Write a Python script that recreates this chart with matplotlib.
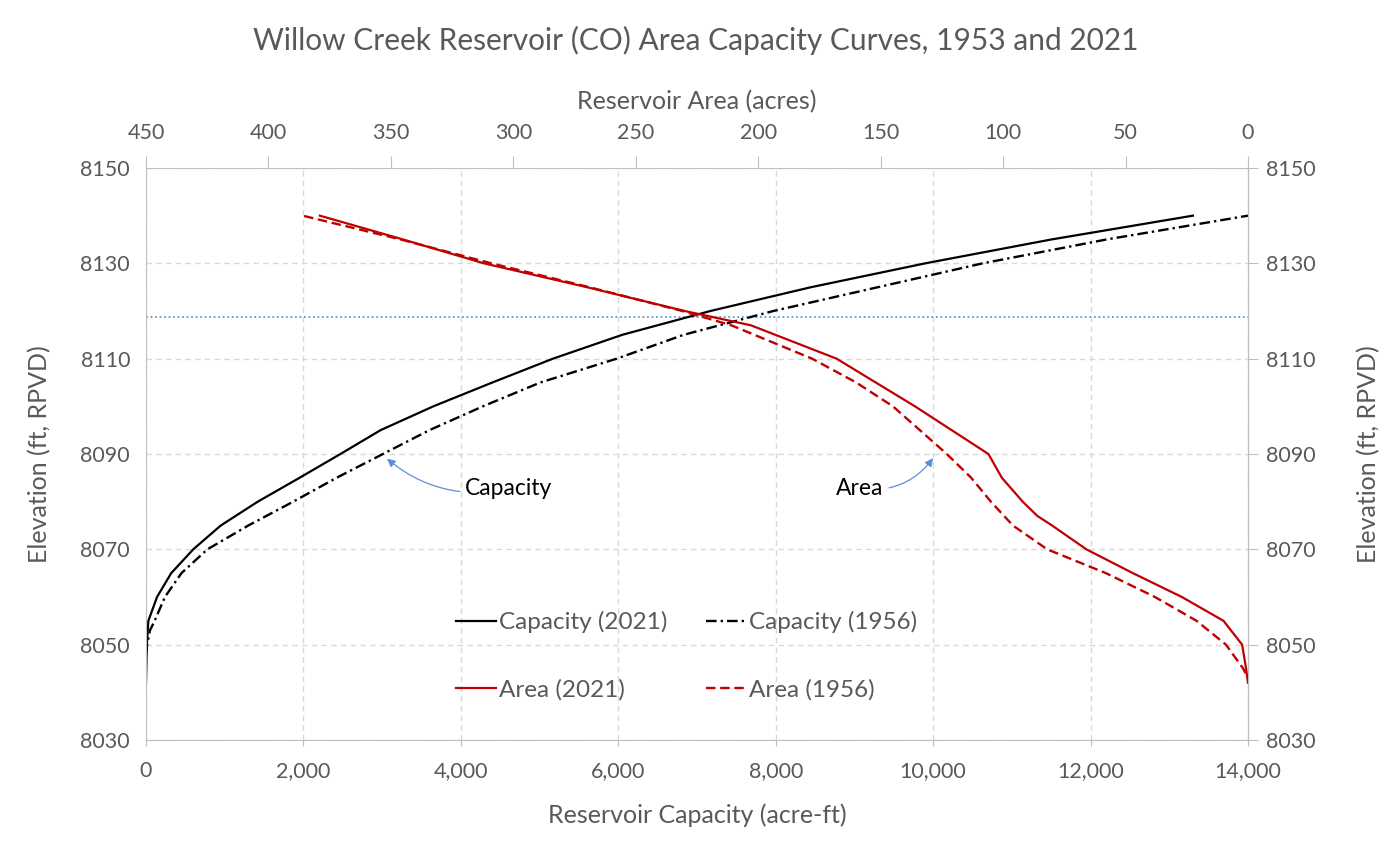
import numpy as np
import matplotlib
matplotlib.use("Agg")
import matplotlib.pyplot as plt

plt.rcParams['font.family'] = ['Lato', 'DejaVu Sans']

# ---- data ----
# capacity (acre-ft) vs elevation (ft)
cap21_elev = [8042, 8050, 8055, 8060, 8065, 8070, 8075, 8080, 8085, 8090, 8095,
              8100, 8105, 8110, 8115, 8120, 8125, 8130, 8135, 8140]
cap21_val = [0, 10, 30, 140, 320, 600, 950, 1420, 1950, 2470, 2980,
             3650, 4400, 5170, 6050, 7170, 8450, 9900, 11500, 13300]

cap56_elev = [8048, 8050, 8053, 8055, 8060, 8065, 8070, 8075, 8080, 8085, 8090, 8095,
              8100, 8105, 8110, 8115, 8120, 8125, 8130, 8135, 8140]
cap56_val = [0, 15, 50, 110, 240, 450, 780, 1300, 1870, 2420, 3010, 3600,
             4280, 5010, 5980, 6830, 7970, 9300, 10630, 12200, 14000]

# area (acres) vs elevation (ft)
area21_elev = [8042, 8045, 8050, 8055, 8060, 8065, 8070, 8075, 8077, 8080, 8085, 8090,
               8095, 8100, 8105, 8110, 8117, 8120, 8125, 8130, 8135, 8140]
area21_val = [0, 0.8, 2.4, 10, 27, 47, 66, 80, 86, 92, 100.5, 106,
              121, 136, 152, 168, 203, 230, 270, 312, 345, 379]

area56_elev = [8044, 8045, 8050, 8055, 8060, 8065, 8070, 8075, 8080, 8085, 8090,
               8095, 8100, 8105, 8110, 8117, 8120, 8125, 8130, 8135, 8140]
area56_val = [1, 2, 9, 21, 38, 58, 82, 96, 105, 113, 123,
              134, 145, 160, 178, 211, 231, 269, 309, 346, 386]

water_level = 8118.75

gray = '#595959'
red = '#C00000'

fig = plt.figure(figsize=(13.92, 8.46), dpi=100)
ax = fig.add_axes([146/1392, 1-740/846, (1248-146)/1392, (740-168)/846])

ax.set_xlim(0, 14000)
ax.set_ylim(8030, 8150)
ax.set_xticks(np.arange(0, 14001, 2000))
ax.set_yticks(np.arange(8030, 8151, 20))
ax.xaxis.set_major_formatter(matplotlib.ticker.StrMethodFormatter('{x:,.0f}'))
ax.grid(True, color='#D9D9D9', linestyle=(0, (4, 3)), linewidth=1)
ax.tick_params(axis='x', colors='#BFBFBF', labelcolor=gray, labelsize=15.5, length=4, pad=11)
ax.tick_params(axis='y', colors='#BFBFBF', labelcolor=gray, labelsize=15.5, length=0, pad=11.5)
for s in ax.spines.values():
    s.set_color('#BFBFBF')
ax.set_xlabel('Reservoir Capacity (acre-ft)', fontsize=18, color=gray, labelpad=16)
ax.set_ylabel('Elevation (ft, RPVD)', fontsize=18, color=gray, labelpad=21)

ax.axhline(water_level, color='#5B9BD5', linestyle=(0, (1, 1.5)), linewidth=1.3)

l1, = ax.plot(cap21_val, cap21_elev, color='black', lw=1.6, label='Capacity (2021)')
l2, = ax.plot(cap56_val, cap56_elev, color='black', lw=1.7,
              linestyle=(0, (4.5, 1.7, 1, 1.7)), label='Capacity (1956)')

# top axis: area (reversed)
ax2 = ax.twiny()
ax2.set_xlim(450, 0)
ax2.set_xticks(np.arange(450, -1, -50))
ax2.tick_params(axis='x', colors='#BFBFBF', labelcolor=gray, labelsize=15.5, length=9, pad=9)
for s in ax2.spines.values():
    s.set_visible(False)
ax2.set_xlabel('Reservoir Area (acres)', fontsize=18, color=gray, labelpad=10)
l3, = ax2.plot(area21_val, area21_elev, color=red, lw=1.6, label='Area (2021)')
l4, = ax2.plot(area56_val, area56_elev, color=red, lw=1.7,
               linestyle=(0, (4, 2)), label='Area (1956)')

# right axis: elevation
ax3 = ax.secondary_yaxis('right')
ax3.set_yticks(np.arange(8030, 8151, 20))
ax3.tick_params(axis='y', colors='#BFBFBF', labelcolor=gray, labelsize=15.5, length=7, pad=6)
ax3.spines['right'].set_color('#BFBFBF')
ax3.set_ylabel('Elevation (ft, RPVD)', fontsize=18, color=gray, labelpad=30)

ax.legend(handles=[l1, l3, l2, l4], ncol=2, frameon=False, fontsize=17.5,
          labelcolor=gray, loc='center', bbox_to_anchor=(0.493, 0.2246),
          bbox_transform=fig.transFigure, handlelength=1.65, handletextpad=0.12,
          columnspacing=1.6, labelspacing=1.9)

arrow = dict(arrowstyle='-|>', color='#5B8FD8', lw=0.9, mutation_scale=12)
ax.annotate('Capacity', xy=(3035, 8089.4), xytext=(4610, 8082.7), fontsize=16.5,
            color='black', ha='center', va='center',
            arrowprops=dict(connectionstyle='arc3,rad=-0.25', **arrow))
ax.annotate('Area', xy=(10020, 8089.6), xytext=(9070, 8082.7), fontsize=16.5,
            color='black', ha='center', va='center',
            arrowprops=dict(connectionstyle='arc3,rad=0.3', **arrow))

fig.suptitle('Willow Creek Reservoir (CO) Area Capacity Curves, 1953 and 2021',
             fontsize=21.5, color=gray, y=1-40/846, va='center')

fig.savefig('out.png', dpi=100)
